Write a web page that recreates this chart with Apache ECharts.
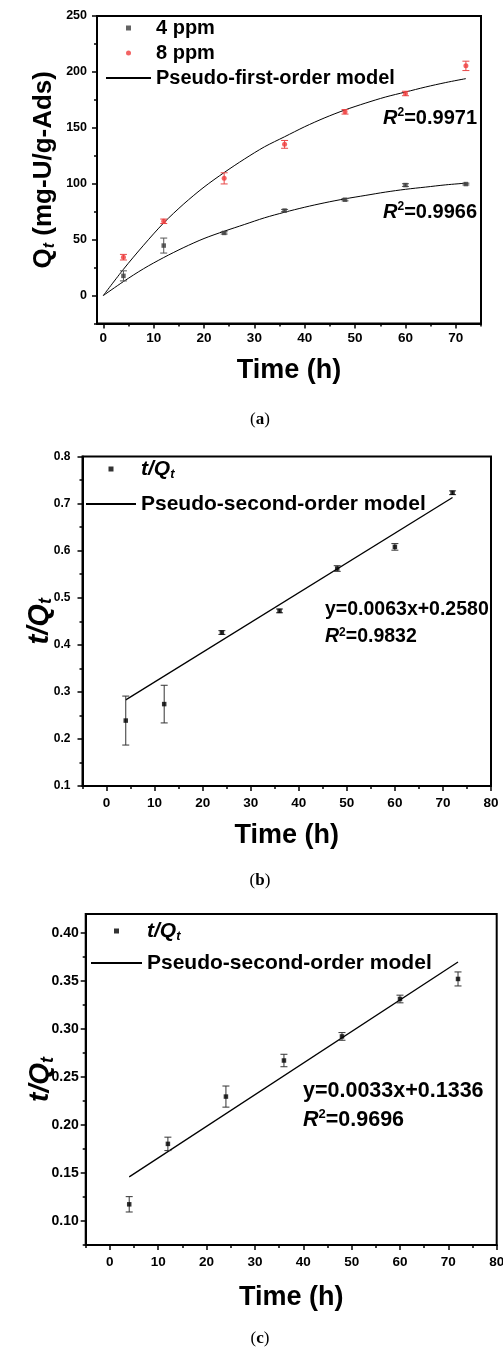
<!DOCTYPE html>
<html><head><meta charset="utf-8">
<script src="https://cdn.jsdelivr.net/npm/echarts@6/dist/echarts.min.js"></script>
<style>html,body{margin:0;padding:0;background:#fff}#c{width:503px;height:1350px}</style>
</head><body><div id="c"></div>
<script>
// ---------- Panel (a) ----------
const timeA = [4, 12, 24, 36, 48, 60, 72];
const q4ppm = [17.6, 44.7, 56.0, 76.0, 85.7, 98.8, 99.7];
const q4ppmErr = [4.5, 6.7, 1.0, 1.0, 1.0, 1.2, 0.8];
const q8ppm = [34.3, 66.4, 104.8, 135.2, 164.3, 180.7, 205.4];
const q8ppmErr = [2.5, 2.0, 5.0, 3.5, 2.0, 2.0, 4.2];
const fitTime = [0, 4, 8, 12, 16, 20, 24, 28, 32, 36, 40, 44, 48, 52, 56, 60, 64, 68, 72];
const fit4ppm = [0, 12.5, 24, 34, 43, 51, 57.5, 63.5, 69.5, 74.5, 79, 83, 86.5, 89.5, 92.5, 95, 97, 99, 100.5];
const fit8ppm = [0, 23.5, 45, 65, 82, 97, 110, 122, 133, 142, 151, 159, 166, 172, 177.5, 182, 186.5, 190.5, 194];
const xTicksA = [0, 10, 20, 30, 40, 50, 60, 70];
const xMinorA = [5, 15, 25, 35, 45, 55, 65, 75];
const yTicksA = [0, 50, 100, 150, 200, 250];
const yMinorA = [-25, 25, 75, 125, 175, 225];

// ---------- Panel (b) ----------
const timeB = [4, 12, 24, 36, 48, 60, 72];
const tQb = [0.239, 0.274, 0.426, 0.472, 0.562, 0.608, 0.723];
const tQbErr = [0.052, 0.040, 0.004, 0.004, 0.006, 0.007, 0.004];
const fitBx = [4, 72];
const fitBy = [0.283, 0.713];
const yTicksB = [0.1, 0.2, 0.3, 0.4, 0.5, 0.6, 0.7, 0.8];
const yMinorB = [0.15, 0.25, 0.35, 0.45, 0.55, 0.65, 0.75];

// ---------- Panel (c) ----------
const timeC = [4, 12, 24, 36, 48, 60, 72];
const tQc = [0.1174, 0.1804, 0.2297, 0.2673, 0.2924, 0.3314, 0.3523];
const tQcErr = [0.008, 0.007, 0.011, 0.0065, 0.004, 0.004, 0.0073];
const fitCx = [4, 72];
const fitCy = [0.146, 0.370];
const yTicksC = [0.10, 0.15, 0.20, 0.25, 0.30, 0.35, 0.40];
const yMinorC = [0.075, 0.125, 0.175, 0.225, 0.275, 0.325, 0.375];

const xTicksBC = [0, 10, 20, 30, 40, 50, 60, 70, 80];
const xMinorBC = [-5, 5, 15, 25, 35, 45, 55, 65, 75];

const FONT = "'Liberation Sans', Arial, sans-serif";
const SERIF = "'Liberation Serif', 'DejaVu Serif', serif";

function xAxes(grid, min, max, ticks, minor, gap, margin) {
  return [{
    type: 'value', gridIndex: grid, min: min, max: max, position: 'bottom',
    name: 'Time (h)', nameLocation: 'middle', nameGap: gap, nameMoveOverlap: false,
    nameTextStyle: {fontFamily: FONT, fontSize: 27, fontWeight: 'bold', color: '#000'},
    axisLine: {show: true, onZero: false, lineStyle: {color: '#000', width: 2}},
    axisTick: {show: true, customValues: ticks, length: 5, lineStyle: {color: '#000', width: 1.5}},
    axisLabel: {show: true, customValues: ticks, margin: margin, fontFamily: FONT, fontSize: 13.5, fontWeight: 'bold', color: '#000'},
    splitLine: {show: false}
  }, {
    type: 'value', gridIndex: grid, min: min, max: max, position: 'bottom',
    axisLine: {show: false, onZero: false},
    axisTick: {show: true, customValues: minor, length: 3, lineStyle: {color: '#000', width: 1.5}},
    axisLabel: {show: false}, splitLine: {show: false}
  }];
}
function yAxes(grid, min, max, ticks, minor, name, rich, gap, margin, fs, fmt) {
  return [{
    type: 'value', gridIndex: grid, min: min, max: max, position: 'left',
    name: name, nameLocation: 'middle', nameRotate: 90, nameGap: gap, nameMoveOverlap: false,
    nameTextStyle: {fontFamily: FONT, fontWeight: 'bold', color: '#000', rich: rich},
    axisLine: {show: true, onZero: false, lineStyle: {color: '#000', width: 2}},
    axisTick: {show: true, customValues: ticks, length: 5, lineStyle: {color: '#000', width: 1.5}},
    axisLabel: {show: true, customValues: ticks, margin: margin, fontFamily: FONT, fontSize: fs, fontWeight: 'bold', color: '#000', formatter: fmt},
    splitLine: {show: false}
  }, {
    type: 'value', gridIndex: grid, min: min, max: max, position: 'left',
    axisLine: {show: false, onZero: false},
    axisTick: {show: true, customValues: minor, length: 3, lineStyle: {color: '#000', width: 1.5}},
    axisLabel: {show: false}, splitLine: {show: false}
  }];
}

function errRender(color, cap) {
  return function (params, api) {
    const x = api.value(0), y = api.value(1), e = api.value(2);
    const t = api.coord([x, y + e]), b = api.coord([x, y - e]);
    const hw = cap / 2;
    const st = {stroke: color, lineWidth: 1};
    return {type: 'group', children: [
      {type: 'line', shape: {x1: t[0], y1: t[1], x2: b[0], y2: b[1]}, style: st},
      {type: 'line', shape: {x1: t[0] - hw, y1: t[1], x2: t[0] + hw, y2: t[1]}, style: st},
      {type: 'line', shape: {x1: b[0] - hw, y1: b[1], x2: b[0] + hw, y2: b[1]}, style: st}
    ]};
  };
}
function zip3(a, b, c) { return a.map((v, i) => [v, b[i], c[i]]); }
function zip2(a, b) { return a.map((v, i) => [v, b[i]]); }

const SQUARE = 'path://M0,0H10V10H0Z';

const chart = echarts.init(document.getElementById('c'), null, {renderer: 'canvas'});

const ax = [];
ax.push(...xAxes(0, -1.25, 75, xTicksA, xMinorA, 34, 8));
ax.push(...xAxes(1, -5, 80, xTicksBC, xMinorBC, 36, 10));
ax.push(...xAxes(2, -5, 80, xTicksBC, xMinorBC, 39, 10));
const ay = [];
ay.push(...yAxes(0, -25, 250, yTicksA, yMinorA,
  '{q|Q}{s|t}{n| (mg-U/g-Ads)}',
  {q: {fontFamily: FONT, fontSize: 26, fontWeight: 'bold', color: '#000', lineHeight: 28},
   s: {fontFamily: FONT, fontSize: 16, fontStyle: 'italic', fontWeight: 'bold', color: '#000', lineHeight: 16, verticalAlign: 'bottom'},
   n: {fontFamily: FONT, fontSize: 26, fontWeight: 'bold', color: '#000', lineHeight: 28}},
  39, 10, 12.5, v => String(v)));
ay.push(...yAxes(1, 0.1, 0.8, yTicksB, yMinorB,
  '{i|t/Q}{s|t}',
  {i: {fontFamily: FONT, fontSize: 29, fontStyle: 'italic', fontWeight: 'bold', color: '#000', lineHeight: 32},
   s: {fontFamily: FONT, fontSize: 18, fontStyle: 'italic', fontWeight: 'bold', color: '#000', lineHeight: 18, verticalAlign: 'bottom'}},
  27, 12, 12, v => v.toFixed(1)));
ay.push(...yAxes(2, 0.075, 0.42, yTicksC, yMinorC,
  '{i|t/Q}{s|t}',
  {i: {fontFamily: FONT, fontSize: 28, fontStyle: 'italic', fontWeight: 'bold', color: '#000', lineHeight: 32},
   s: {fontFamily: FONT, fontSize: 18, fontStyle: 'italic', fontWeight: 'bold', color: '#000', lineHeight: 18, verticalAlign: 'bottom'}},
  29, 7, 14, v => v.toFixed(2)));

const legendText = (fs, lh) => ({
  fontFamily: FONT, fontSize: fs, fontWeight: 'bold', color: '#000', lineHeight: lh,
  rich: {
    i: {fontFamily: FONT, fontSize: fs, fontStyle: 'italic', fontWeight: 'bold', color: '#000', lineHeight: lh},
    s: {fontFamily: FONT, fontSize: 13, fontStyle: 'italic', fontWeight: 'bold', color: '#000', lineHeight: 12, verticalAlign: 'bottom'}
  }
});
const tqFmt = n => n === 't/Qt' ? '{i|t/Q}{s|t}' : n;
const noDot = {opacity: 0, borderWidth: 0};

function annot(x, y, text, fs, align) {
  return {
    type: 'text', x: x, y: y, z: 100,
    style: {
      text: text, align: align, verticalAlign: 'middle',
      fontFamily: FONT, fontSize: fs, fontWeight: 'bold', fill: '#000',
      rich: {
        r: {fontFamily: FONT, fontSize: fs, fontStyle: 'italic', fontWeight: 'bold', fill: '#000', lineHeight: fs + 2},
        p: {fontFamily: FONT, fontSize: Math.round(fs * 0.6), fontWeight: 'bold', fill: '#000', lineHeight: Math.round(fs * 0.6), verticalAlign: 'top'},
        n: {fontFamily: FONT, fontSize: fs, fontWeight: 'bold', fill: '#000', lineHeight: fs + 2}
      }
    }
  };
}
function caption(y, letter) {
  return {
    type: 'text', x: 260, y: y, z: 100,
    style: {
      text: '{p|(}{b|' + letter + '}{p|)}', align: 'center', verticalAlign: 'middle',
      rich: {
        p: {fontFamily: SERIF, fontSize: 17, fill: '#000'},
        b: {fontFamily: SERIF, fontSize: 17, fontWeight: 'bold', fill: '#000'}
      }
    }
  };
}

const option = {
  backgroundColor: '#fff',
  animation: false,
  grid: [
    {left: 97, top: 16, width: 384, height: 307.5, show: true, borderColor: '#000', borderWidth: 2, outerBoundsMode: 'none'},
    {left: 82.5, top: 456.5, width: 408.5, height: 329.5, show: true, borderColor: '#000', borderWidth: 2, outerBoundsMode: 'none'},
    {left: 85.7, top: 914, width: 411, height: 331, show: true, borderColor: '#000', borderWidth: 2, outerBoundsMode: 'none'}
  ],
  xAxis: ax,
  yAxis: ay,
  legend: [
    {left: 100, top: 13, orient: 'vertical', itemWidth: 45, itemHeight: 5, itemGap: 5, selectedMode: false,
     data: [{name: '4 ppm', icon: SQUARE}, {name: '8 ppm', icon: 'circle'}, {name: 'Pseudo-first-order model', itemStyle: noDot}],
     textStyle: legendText(20, 20)},
    {left: 80, top: 452, orient: 'vertical', itemWidth: 50, itemHeight: 5, itemGap: 11, selectedMode: false,
     data: [{name: 't/Qt', icon: SQUARE}, {name: 'Pseudo-second-order model', itemStyle: noDot}],
     formatter: tqFmt, textStyle: legendText(21, 24)},
    {left: 85, top: 914, orient: 'vertical', itemWidth: 51, itemHeight: 5, itemGap: 8, selectedMode: false,
     data: [{name: 't/Qt', icon: SQUARE}, {name: 'Pseudo-second-order model', itemStyle: noDot}],
     formatter: tqFmt, textStyle: legendText(21, 24)}
  ],
  graphic: [
    annot(477, 118, '{r|R}{p|2}{n|=0.9971}', 20, 'right'),
    annot(477, 212, '{r|R}{p|2}{n|=0.9966}', 20, 'right'),
    annot(325, 610, '{n|y=0.0063x+0.2580}', 19.5, 'left'),
    annot(325, 637, '{r|R}{p|2}{n|=0.9832}', 19.5, 'left'),
    annot(303, 1091, '{n|y=0.0033x+0.1336}', 21.5, 'left'),
    annot(303, 1120, '{r|R}{p|2}{n|=0.9696}', 21.5, 'left'),
    caption(420, 'a'),
    caption(881, 'b'),
    caption(1339, 'c')
  ],
  series: [
    // panel a
    {type: 'line', name: 'Pseudo-first-order model', xAxisIndex: 0, yAxisIndex: 0, data: zip2(fitTime, fit4ppm),
     showSymbol: false, symbol: 'none', smooth: 0.3, color: '#000', lineStyle: {color: '#000', width: 1}, z: 3},
    {type: 'line', name: 'Pseudo-first-order model', xAxisIndex: 0, yAxisIndex: 0, data: zip2(fitTime, fit8ppm),
     showSymbol: false, symbol: 'none', smooth: 0.3, color: '#000', lineStyle: {color: '#000', width: 1}, z: 3},
    {type: 'custom', name: 'err4', xAxisIndex: 0, yAxisIndex: 0, data: zip3(timeA, q4ppm, q4ppmErr),
     renderItem: errRender('#555', 7), encode: {x: 0, y: 1}, z: 4},
    {type: 'scatter', name: '4 ppm', xAxisIndex: 0, yAxisIndex: 0, data: zip2(timeA, q4ppm),
     symbol: 'rect', symbolSize: 4.5, itemStyle: {color: '#3c3c3c'}, z: 5},
    {type: 'custom', name: 'err8', xAxisIndex: 0, yAxisIndex: 0, data: zip3(timeA, q8ppm, q8ppmErr),
     renderItem: errRender('#e84848', 7), encode: {x: 0, y: 1}, z: 4},
    {type: 'scatter', name: '8 ppm', xAxisIndex: 0, yAxisIndex: 0, data: zip2(timeA, q8ppm),
     symbol: 'circle', symbolSize: 5, itemStyle: {color: '#f03c3c'}, z: 5},
    // panel b
    {type: 'line', name: 'Pseudo-second-order model', xAxisIndex: 2, yAxisIndex: 2, data: zip2(fitBx, fitBy),
     showSymbol: false, symbol: 'none', color: '#000', lineStyle: {color: '#000', width: 1.3}, z: 3},
    {type: 'custom', name: 'errB', xAxisIndex: 2, yAxisIndex: 2, data: zip3(timeB, tQb, tQbErr),
     renderItem: errRender('#333', 7), encode: {x: 0, y: 1}, z: 4},
    {type: 'scatter', name: 't/Qt', xAxisIndex: 2, yAxisIndex: 2, data: zip2(timeB, tQb),
     symbol: 'rect', symbolSize: 4.5, itemStyle: {color: '#000'}, z: 5},
    // panel c
    {type: 'line', name: 'Pseudo-second-order model', xAxisIndex: 4, yAxisIndex: 4, data: zip2(fitCx, fitCy),
     showSymbol: false, symbol: 'none', color: '#000', lineStyle: {color: '#000', width: 1.3}, z: 3},
    {type: 'custom', name: 'errC', xAxisIndex: 4, yAxisIndex: 4, data: zip3(timeC, tQc, tQcErr),
     renderItem: errRender('#333', 7), encode: {x: 0, y: 1}, z: 4},
    {type: 'scatter', name: 't/Qt', xAxisIndex: 4, yAxisIndex: 4, data: zip2(timeC, tQc),
     symbol: 'rect', symbolSize: 4.5, itemStyle: {color: '#000'}, z: 5}
  ]
};
chart.setOption(option);
</script>
</body></html>
